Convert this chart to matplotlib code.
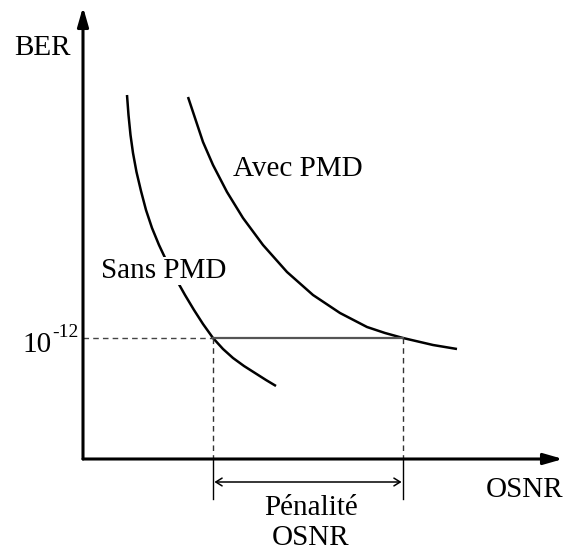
import matplotlib.pyplot as plt

# --- BER vs OSNR sketch, coordinates in drawing units (y grows downward) ---
W, H = 565, 555

# curve without PMD (OSNR position, BER position)
sans_x = [127, 128.5, 130.5, 133, 136.5, 141, 146, 152, 159, 167, 176,
          185, 194, 203, 213, 223, 233, 244, 255, 266, 276]
sans_y = [95, 115, 135, 153, 172, 191, 210, 228, 245, 262, 279,
          295, 310, 324, 338, 349, 358, 366, 373, 380, 386]

# curve with PMD
avec_x = [188, 195, 203, 213, 227, 243, 263, 287, 313, 340, 367, 385, 403, 433, 457]
avec_y = [97, 118, 142, 165, 192, 218, 245, 272, 295, 313, 327, 333, 338, 345, 349]

# axes origin and arrow tips
origin = (83, 459)
y_tip = (83, 7)
x_tip = (563, 459)

# BER threshold level and where each curve reaches it
ber_level = 338
osnr_sans = 213
osnr_avec = 403
penalty_y = 482
penalty_bottom = 499

FONT = 'Liberation Serif'
FS = 21

fig = plt.figure(figsize=(W / 100, H / 100), dpi=100)
ax = fig.add_axes([0, 0, 1, 1])
ax.set_xlim(0, W)
ax.set_ylim(H, 0)
ax.axis('off')

# axes with filled arrow heads
head = dict(arrowstyle='-|>,head_length=1.15,head_width=0.33', lw=2.2,
            color='black', shrinkA=0, shrinkB=0, mutation_scale=10)
ax.annotate('', xy=y_tip, xytext=origin, arrowprops=head)
ax.annotate('', xy=x_tip, xytext=origin, arrowprops=head)

# BER curves
ax.plot(sans_x, sans_y, color='black', lw=1.8, solid_capstyle='butt',
        solid_joinstyle='round', zorder=2)
ax.plot(avec_x, avec_y, color='black', lw=1.8, solid_capstyle='butt',
        solid_joinstyle='round', zorder=2)

# threshold guides
dash = (0, (4, 3))
ax.plot([origin[0], osnr_sans], [ber_level, ber_level], color='#444444', lw=1, ls=dash)
ax.plot([osnr_sans, osnr_avec], [ber_level, ber_level], color='#555555', lw=1.6)
for xv in (osnr_sans, osnr_avec):
    ax.plot([xv, xv], [ber_level, origin[1]], color='#333333', lw=1, ls=dash)
    ax.plot([xv, xv], [origin[1], penalty_bottom], color='black', lw=1)

# OSNR penalty arrow
ax.annotate('', xy=(osnr_avec, penalty_y), xytext=(osnr_sans, penalty_y),
            arrowprops=dict(arrowstyle='<->,head_length=0.45,head_width=0.28', lw=1.1,
                            color='black', shrinkA=1, shrinkB=1, mutation_scale=10))

# labels
txt = dict(family=FONT, fontsize=FS, color='black')
ax.text(42, 55, 'BER', ha='center', va='baseline', **txt)
ax.text(52, 352, '10', ha='right', va='baseline', **txt)
ax.text(52, 337, '-12', ha='left', va='baseline', family=FONT, fontsize=14, color='black')
ax.text(298, 176, 'Avec PMD', ha='center', va='baseline', **txt)
ax.text(101, 278, 'Sans PMD', ha='left', va='baseline', zorder=3,
        bbox=dict(facecolor='white', edgecolor='none', pad=1), **txt)
ax.text(525, 497, 'OSNR', ha='center', va='baseline', **txt)
ax.text(311, 515, 'Pénalité', ha='center', va='baseline', **txt)
ax.text(311, 545, 'OSNR', ha='center', va='baseline', **txt)

fig.savefig('out.png', dpi=100)
